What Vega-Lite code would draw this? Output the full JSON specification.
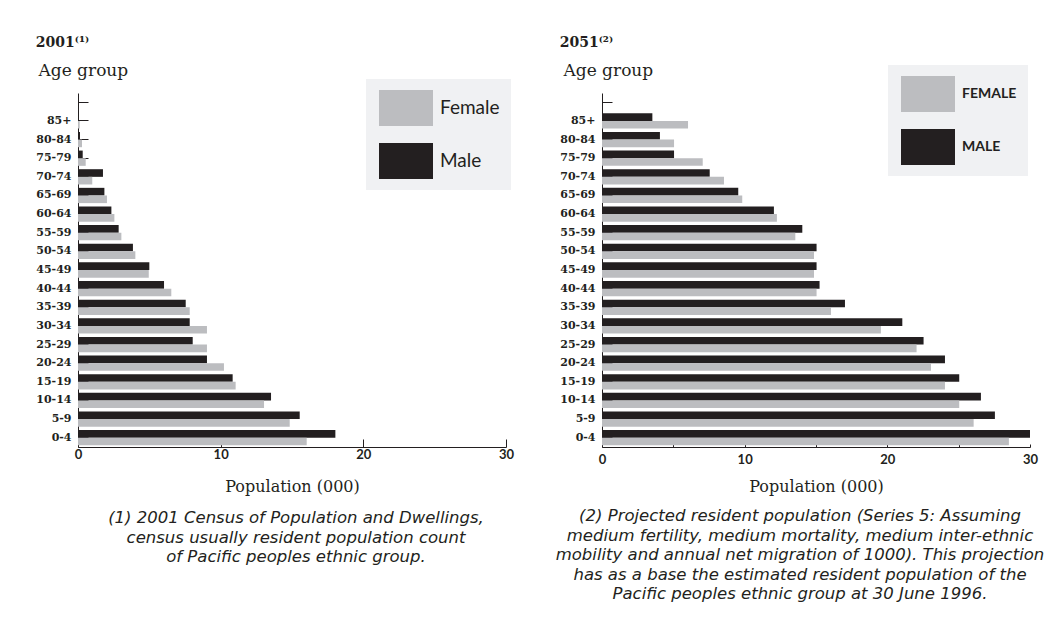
{
  "$schema": "https://vega.github.io/schema/vega-lite/v6.json",
  "background": "white",
  "padding": {"left": 35, "top": 36, "right": 5, "bottom": 5},
  "datasets": {
    "d2001": [
      {"age": "85+", "sex": "Male", "pop": 0.05}, {"age": "85+", "sex": "Female", "pop": 0.12},
      {"age": "80-84", "sex": "Male", "pop": 0.14}, {"age": "80-84", "sex": "Female", "pop": 0.28},
      {"age": "75-79", "sex": "Male", "pop": 0.33}, {"age": "75-79", "sex": "Female", "pop": 0.54},
      {"age": "70-74", "sex": "Male", "pop": 1.75}, {"age": "70-74", "sex": "Female", "pop": 1.0},
      {"age": "65-69", "sex": "Male", "pop": 1.85}, {"age": "65-69", "sex": "Female", "pop": 2.03},
      {"age": "60-64", "sex": "Male", "pop": 2.34}, {"age": "60-64", "sex": "Female", "pop": 2.55},
      {"age": "55-59", "sex": "Male", "pop": 2.85}, {"age": "55-59", "sex": "Female", "pop": 3.04},
      {"age": "50-54", "sex": "Male", "pop": 3.85}, {"age": "50-54", "sex": "Female", "pop": 4.02},
      {"age": "45-49", "sex": "Male", "pop": 5.0}, {"age": "45-49", "sex": "Female", "pop": 4.96},
      {"age": "40-44", "sex": "Male", "pop": 6.03}, {"age": "40-44", "sex": "Female", "pop": 6.54},
      {"age": "35-39", "sex": "Male", "pop": 7.55}, {"age": "35-39", "sex": "Female", "pop": 7.83},
      {"age": "30-34", "sex": "Male", "pop": 7.83}, {"age": "30-34", "sex": "Female", "pop": 9.04},
      {"age": "25-29", "sex": "Male", "pop": 8.04}, {"age": "25-29", "sex": "Female", "pop": 9.04},
      {"age": "20-24", "sex": "Male", "pop": 9.04}, {"age": "20-24", "sex": "Female", "pop": 10.23},
      {"age": "15-19", "sex": "Male", "pop": 10.84}, {"age": "15-19", "sex": "Female", "pop": 11.05},
      {"age": "10-14", "sex": "Male", "pop": 13.53}, {"age": "10-14", "sex": "Female", "pop": 13.04},
      {"age": "5-9", "sex": "Male", "pop": 15.54}, {"age": "5-9", "sex": "Female", "pop": 14.84},
      {"age": "0-4", "sex": "Male", "pop": 18.04}, {"age": "0-4", "sex": "Female", "pop": 16.03}
    ],
    "d2051": [
      {"age": "85+", "sex": "Male", "pop": 3.53}, {"age": "85+", "sex": "Female", "pop": 6.03},
      {"age": "80-84", "sex": "Male", "pop": 4.06}, {"age": "80-84", "sex": "Female", "pop": 5.05},
      {"age": "75-79", "sex": "Male", "pop": 5.05}, {"age": "75-79", "sex": "Female", "pop": 7.06},
      {"age": "70-74", "sex": "Male", "pop": 7.55}, {"age": "70-74", "sex": "Female", "pop": 8.55},
      {"age": "65-69", "sex": "Male", "pop": 9.55}, {"age": "65-69", "sex": "Female", "pop": 9.83},
      {"age": "60-64", "sex": "Male", "pop": 12.05}, {"age": "60-64", "sex": "Female", "pop": 12.26},
      {"age": "55-59", "sex": "Male", "pop": 14.04}, {"age": "55-59", "sex": "Female", "pop": 13.55},
      {"age": "50-54", "sex": "Male", "pop": 15.04}, {"age": "50-54", "sex": "Female", "pop": 14.86},
      {"age": "45-49", "sex": "Male", "pop": 15.04}, {"age": "45-49", "sex": "Female", "pop": 14.86},
      {"age": "40-44", "sex": "Male", "pop": 15.25}, {"age": "40-44", "sex": "Female", "pop": 15.04},
      {"age": "35-39", "sex": "Male", "pop": 17.03}, {"age": "35-39", "sex": "Female", "pop": 16.05},
      {"age": "30-34", "sex": "Male", "pop": 21.05}, {"age": "30-34", "sex": "Female", "pop": 19.55},
      {"age": "25-29", "sex": "Male", "pop": 22.54}, {"age": "25-29", "sex": "Female", "pop": 22.05},
      {"age": "20-24", "sex": "Male", "pop": 24.04}, {"age": "20-24", "sex": "Female", "pop": 23.06},
      {"age": "15-19", "sex": "Male", "pop": 25.04}, {"age": "15-19", "sex": "Female", "pop": 24.04},
      {"age": "10-14", "sex": "Male", "pop": 26.56}, {"age": "10-14", "sex": "Female", "pop": 25.04},
      {"age": "5-9", "sex": "Male", "pop": 27.54}, {"age": "5-9", "sex": "Female", "pop": 26.05},
      {"age": "0-4", "sex": "Male", "pop": 30.0}, {"age": "0-4", "sex": "Female", "pop": 28.52}
    ]
  },
  "spacing": 41,
  "resolve": {"scale": {"color": "independent"}, "legend": {"color": "independent"}},
  "hconcat": [
    {
      "title": {"text": "2001⁽¹⁾", "anchor": "start", "frame": "bounds", "font": "DejaVu Serif", "fontSize": 14, "fontWeight": "bold", "color": "#231f20", "baseline": "alphabetic", "offset": 0},
      "vconcat": [
        {
          "width": 428, "height": 354,
          "data": {"name": "d2001"},
          "title": {"text": ["(1) 2001 Census of Population and Dwellings,", "census usually resident population count", "of Pacific peoples ethnic group."], "orient": "bottom", "anchor": "middle", "frame": "group", "font": "DejaVu Sans", "fontStyle": "italic", "fontSize": 16.5, "fontWeight": "normal", "color": "#231f20", "lineHeight": 19.6, "dx": 4, "offset": 16},
          "mark": {"type": "bar"},
          "encoding": {
            "y": {"field": "age", "type": "nominal",
              "scale": {"domain": ["", "85+", "80-84", "75-79", "70-74", "65-69", "60-64", "55-59", "50-54", "45-49", "40-44", "35-39", "30-34", "25-29", "20-24", "15-19", "10-14", "5-9", "0-4"], "paddingInner": 0, "paddingOuter": 0},
              "axis": {"title": "Age  group", "titleAngle": 0, "titleAlign": "left", "titleBaseline": "alphabetic", "titleX": -40, "titleY": -18, "titleFont": "DejaVu Serif", "titleFontSize": 17, "titleFontWeight": "normal", "titleColor": "#231f20", "labelFont": "DejaVu Serif", "labelFontSize": 11, "labelFontWeight": "bold", "labelColor": "#231f20", "labelPadding": 17, "tickSize": -10, "tickColor": "#231f20", "domainColor": "#231f20", "grid": false}},
            "yOffset": {"field": "sex", "type": "nominal", "scale": {"domain": ["Male", "Female"], "paddingInner": 0, "paddingOuter": 0.22}},
            "x": {"field": "pop", "type": "quantitative", "scale": {"domain": [0, 30], "nice": false},
              "axis": {"values": [0, 10, 20, 30], "title": "Population   (000)", "titleFont": "DejaVu Serif", "titleFontSize": 16, "titleFontWeight": "normal", "titleColor": "#231f20", "titlePadding": 17, "labelFont": "Lato", "labelFontSize": 13, "labelFontWeight": "bold", "labelColor": "#231f20", "labelPadding": 9, "labelFlush": false, "tickSize": -8, "tickColor": "#231f20", "domainColor": "#231f20", "grid": false}},
            "color": {"field": "sex", "type": "nominal", "scale": {"domain": ["Female", "Male"], "range": ["#bcbdc0", "#231f20"]},
              "legend": {"orient": "none", "legendX": 288, "legendY": -14, "title": null, "fillColor": "#f0f1f3", "padding": 11, "symbolType": "M-1.5,-1H1.5V1H-1.5Z", "symbolSize": 1296, "symbolStrokeWidth": 0, "symbolOffset": 11, "symbolOpacity": 1, "labelOffset": 16, "labelFont": "Lato", "labelFontSize": 19, "labelColor": "#231f20", "rowPadding": 17}}
          }
        }
      ]
    },
    {
      "title": {"text": "2051⁽²⁾", "anchor": "start", "frame": "bounds", "font": "DejaVu Serif", "fontSize": 14, "fontWeight": "bold", "color": "#231f20", "baseline": "alphabetic", "offset": 0, "dx": 4},
      "vconcat": [
        {
          "width": 428, "height": 354,
          "data": {"name": "d2051"},
          "title": {"text": ["(2) Projected resident population (Series 5: Assuming", "medium fertility, medium mortality, medium inter-ethnic", "mobility and annual net migration of 1000). This projection", "has as a base the estimated resident population of the", "Pacific peoples ethnic group at 30 June 1996."], "orient": "bottom", "anchor": "middle", "frame": "group", "font": "DejaVu Sans", "fontStyle": "italic", "fontSize": 16.5, "fontWeight": "normal", "color": "#231f20", "lineHeight": 19.6, "dx": -16, "offset": 14},
          "mark": {"type": "bar"},
          "encoding": {
            "y": {"field": "age", "type": "nominal",
              "scale": {"domain": ["", "85+", "80-84", "75-79", "70-74", "65-69", "60-64", "55-59", "50-54", "45-49", "40-44", "35-39", "30-34", "25-29", "20-24", "15-19", "10-14", "5-9", "0-4"], "paddingInner": 0, "paddingOuter": 0},
              "axis": {"title": "Age  group", "titleAngle": 0, "titleAlign": "left", "titleBaseline": "alphabetic", "titleX": -39, "titleY": -18, "titleFont": "DejaVu Serif", "titleFontSize": 17, "titleFontWeight": "normal", "titleColor": "#231f20", "labelFont": "DejaVu Serif", "labelFontSize": 11, "labelFontWeight": "bold", "labelColor": "#231f20", "labelPadding": 17, "tickSize": -10, "tickColor": "#231f20", "domainColor": "#231f20", "grid": false}},
            "yOffset": {"field": "sex", "type": "nominal", "scale": {"domain": ["Male", "Female"], "paddingInner": 0, "paddingOuter": 0.22}},
            "x": {"field": "pop", "type": "quantitative", "scale": {"domain": [0, 30], "nice": false},
              "axis": {"values": [0, 5, 10, 15, 20, 25, 30], "labelExpr": "datum.value % 10 === 0 ? datum.label : ''", "title": "Population   (000)", "titleFont": "DejaVu Serif", "titleFontSize": 16, "titleFontWeight": "normal", "titleColor": "#231f20", "titlePadding": 12, "labelFont": "Lato", "labelFontSize": 13, "labelFontWeight": "bold", "labelColor": "#231f20", "labelPadding": 9, "labelFlush": false, "tickSize": -3, "tickColor": "#231f20", "domainColor": "#231f20", "grid": false}},
            "color": {"field": "sex", "type": "nominal", "scale": {"domain": ["Female", "Male"], "range": ["#bcbdc0", "#231f20"]},
              "legend": {"orient": "none", "legendX": 286, "legendY": -28, "title": null, "fillColor": "#f0f1f3", "padding": 11, "symbolType": "M-1.5,-1H1.5V1H-1.5Z", "symbolSize": 1296, "symbolStrokeWidth": 0, "symbolOffset": 11, "symbolOpacity": 1, "labelOffset": 16, "labelFont": "Lato", "labelFontSize": 14, "labelFontWeight": "bold", "labelExpr": "upper(datum.label)", "labelColor": "#231f20", "rowPadding": 17}}
          }
        }
      ]
    }
  ],
  "config": {"view": {"stroke": null}}
}
